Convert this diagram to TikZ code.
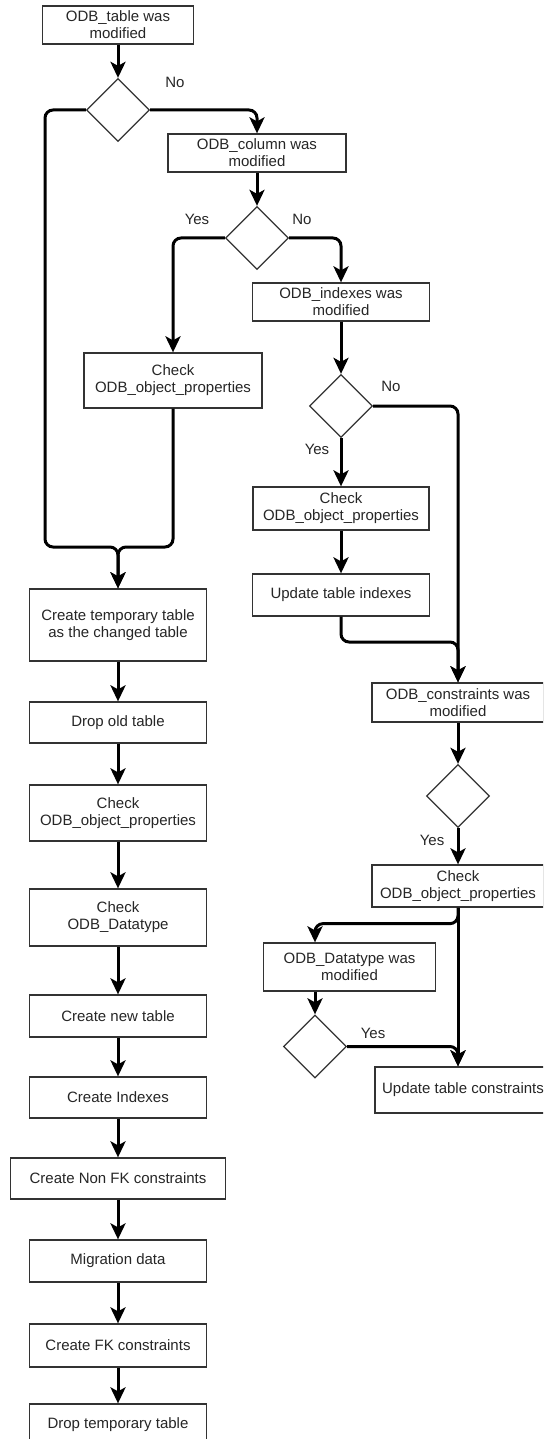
\documentclass[tikz,border=0pt]{standalone}
\usepackage{fontspec}
\setmainfont{Liberation Sans}
\usetikzlibrary{shapes.geometric,arrows.meta}
\definecolor{boxline}{HTML}{333333}
\definecolor{txt}{HTML}{262626}
\begin{document}
\begin{tikzpicture}[x=1pt,y=-1pt,
  box/.style={draw=boxline,line width=1.3pt,fill=white,rectangle,inner sep=0pt,align=center,text=txt,font=\fontsize{15}{17}\selectfont},
  dec/.style={draw=boxline,line width=1.3pt,fill=white,diamond,inner sep=0pt,minimum width=63pt,minimum height=63pt},
  conn/.style={line width=3pt,draw=black,rounded corners=8pt,-{Stealth[length=16pt,width=15pt,inset=4pt]}},
  lbl/.style={text=txt,font=\fontsize{15}{17}\selectfont,inner sep=0pt}]
\useasboundingbox (0,0) rectangle (543,1439);
\clip (0,0) rectangle (543,1439);

% left column: main migration path
\node[box,minimum width=151pt,minimum height=38pt] (t1) at (118,25) {ODB\_table was\\modified};
\node[dec] (d1) at (118,110) {};
\node[box,minimum width=177pt,minimum height=72pt] (ct) at (118,625) {Create temporary table\\as the changed table};
\node[box,minimum width=177pt,minimum height=41pt] (do) at (118,722.5) {Drop old table};
\node[box,minimum width=177pt,minimum height=56pt] (p4) at (118,813) {Check\\ODB\_object\_properties};
\node[box,minimum width=177pt,minimum height=57pt] (p5) at (118,917.5) {Check\\ODB\_Datatype};
\node[box,minimum width=177pt,minimum height=42pt] (cn) at (118,1016) {Create new table};
\node[box,minimum width=177pt,minimum height=41pt] (ci) at (118,1097.5) {Create Indexes};
\node[box,minimum width=215pt,minimum height=41pt] (nf) at (118,1178.5) {Create Non FK constraints};
\node[box,minimum width=177pt,minimum height=42pt] (md) at (118,1261) {Migration data};
\node[box,minimum width=177pt,minimum height=43pt] (fk) at (118,1345.5) {Create FK constraints};
\node[box,minimum width=177pt,minimum height=42pt] (dt2) at (118,1425) {Drop temporary table};

% column checks
\node[box,minimum width=178pt,minimum height=38pt] (c1) at (257,153) {ODB\_column was\\modified};
\node[dec] (d2) at (257,238) {};
\node[box,minimum width=178pt,minimum height=55pt] (p1) at (173,380.5) {Check\\ODB\_object\_properties};

% index checks
\node[box,minimum width=177pt,minimum height=38pt] (i1) at (341,302) {ODB\_indexes was\\modified};
\node[dec] (d3) at (341,406) {};
\node[box,minimum width=176pt,minimum height=43pt] (p2) at (341,508.5) {Check\\ODB\_object\_properties};
\node[box,minimum width=177pt,minimum height=42pt] (u1) at (341,595) {Update table indexes};

% constraint checks
\node[box,minimum width=172pt,minimum height=39pt] (k1) at (458,702.5) {ODB\_constraints was\\modified};
\node[dec] (d4) at (458,796) {};
\node[box,minimum width=172pt,minimum height=42pt] (p3) at (458,886) {Check\\ODB\_object\_properties};
\node[box,minimum width=172pt,minimum height=48pt] (dt) at (349.5,967) {ODB\_Datatype was\\modified};
\node[dec] (d5) at (315,1046.5) {};
\node[box,minimum width=176pt,minimum height=46pt] (uc) at (463,1090) {Update table constraints};

% branch labels
\node[lbl] (n1) at (175,82) {No};
\node[lbl] (y2) at (197,219) {Yes};
\node[lbl] (n2) at (302,219) {No};
\node[lbl] (n3) at (391,386) {No};
\node[lbl] (y3) at (317,449) {Yes};
\node[lbl] (y4) at (432,840) {Yes};
\node[lbl] (y5) at (373,1033) {Yes};

% junction points
\coordinate (bL) at (45,547);
\coordinate (jL) at (118,547);
\coordinate (jR) at (458,642);

% connectors
\draw[conn] (t1.south) -- (d1.north);
\draw[conn] (d1.west) -| (bL) -- (jL) -- (ct.north);
\draw[conn] (p1.south) |- (jL) -- (ct.north);
\draw[conn] (d1.east) -| (c1.north);
\draw[conn] (c1.south) -- (d2.north);
\draw[conn] (d2.west) -| (p1.north);
\draw[conn] (d2.east) -| (i1.north);
\draw[conn] (i1.south) -- (d3.north);
\draw[conn] (d3.south) -- (p2.north);
\draw[conn] (p2.south) -- (u1.north);
\draw[conn] (d3.east) -| (k1.north);
\draw[conn] (u1.south) |- (jR) -- (k1.north);
\draw[conn] (k1.south) -- (d4.north);
\draw[conn] (d4.south) -- (p3.north);
\draw[conn] (p3.south) -- (p3.south |- uc.north);
\draw[conn] (p3.south) -- ++(0,16) -| (d5.north |- dt.north);
\draw[conn] (d5.north |- dt.south) -- (d5.north);
\draw[conn] (d5.east) -| (p3.south |- uc.north);

\draw[conn] (ct.south) -- (do.north);
\draw[conn] (do.south) -- (p4.north);
\draw[conn] (p4.south) -- (p5.north);
\draw[conn] (p5.south) -- (cn.north);
\draw[conn] (cn.south) -- (ci.north);
\draw[conn] (ci.south) -- (nf.north);
\draw[conn] (nf.south) -- (md.north);
\draw[conn] (md.south) -- (fk.north);
\draw[conn] (fk.south) -- (dt2.north);
\end{tikzpicture}
\end{document}
